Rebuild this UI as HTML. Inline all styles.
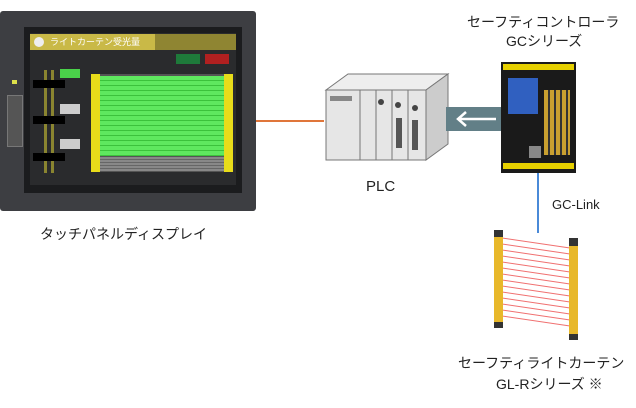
<!DOCTYPE html>
<html><head><meta charset="utf-8"><style>
body{margin:0;width:636px;height:408px;background:#fff;position:relative;overflow:hidden;font-family:"Liberation Sans","Noto Sans CJK JP",sans-serif;color:#222}
.a{position:absolute}
.t{position:absolute;font-size:14px;white-space:nowrap}
</style></head><body>
<!-- touch panel -->
<div class="a" style="left:0;top:11px;width:256px;height:200px;background:#3d3e42;border-radius:3px"></div>
<div class="a" style="left:24px;top:27px;width:218px;height:166px;background:#1b1c1e"></div>
<div class="a" style="left:30px;top:33px;width:206px;height:152px;background:#2a2b2d"></div>
<div class="a" style="left:30px;top:34px;width:206px;height:16px;background:#8f8532"></div>
<div class="a" style="left:30px;top:34px;width:125px;height:16px;background:#c9b947"></div>
<div class="a" style="left:34px;top:37px;width:10px;height:10px;border-radius:50%;background:#eee"></div>
<div class="t" style="left:50px;top:35px;font-size:9px;color:#fff">ライトカーテン受光量</div>
<div class="a" style="left:176px;top:54px;width:24px;height:10px;background:#1e7a3a"></div>
<div class="a" style="left:205px;top:54px;width:24px;height:10px;background:#b02020"></div>
<div class="a" style="left:12px;top:80px;width:5px;height:4px;background:#dde04a"></div>
<div class="a" style="left:7px;top:95px;width:14px;height:50px;background:#555;border:1px solid #777"></div>
<div class="a" style="left:44px;top:70px;width:3px;height:103px;background:#8a8530"></div>
<div class="a" style="left:51px;top:70px;width:3px;height:103px;background:#8a8530"></div>
<div class="a" style="left:33px;top:80px;width:32px;height:8px;background:#000"></div>
<div class="a" style="left:33px;top:116px;width:32px;height:8px;background:#000"></div>
<div class="a" style="left:33px;top:153px;width:32px;height:8px;background:#000"></div>
<div class="a" style="left:60px;top:69px;width:20px;height:9px;background:#4ad24a"></div>
<div class="a" style="left:60px;top:104px;width:20px;height:10px;background:#ccc"></div>
<div class="a" style="left:60px;top:139px;width:20px;height:10px;background:#ccc"></div>
<div class="a" style="left:92px;top:74px;width:132px;height:98px;background:#555"></div>
<div class="a" style="left:100px;top:76px;width:124px;height:80px;background:repeating-linear-gradient(#5fe85f 0 4px,#3cc23c 4px 5px)"></div>
<div class="a" style="left:100px;top:157px;width:124px;height:14px;background:repeating-linear-gradient(#888 0 2px,#666 2px 3px)"></div>
<div class="a" style="left:91px;top:74px;width:9px;height:98px;background:#e8dc1a"></div>
<div class="a" style="left:224px;top:74px;width:9px;height:98px;background:#e8dc1a"></div>
<div class="t" style="left:40px;top:224px;font-size:14px">タッチパネルディスプレイ</div>
<!-- orange line -->
<div class="a" style="left:256px;top:120px;width:68px;height:2px;background:#e0763a"></div>
<!-- PLC -->
<svg class="a" style="left:320px;top:70px" width="130" height="95">
<polygon points="6,20 28,4 128,4 106,20" fill="#eee" stroke="#777"/>
<polygon points="106,20 128,4 128,74 106,90" fill="#ccc" stroke="#777"/>
<rect x="6" y="20" width="100" height="70" fill="#e6e6e6" stroke="#777"/>
<line x1="40" y1="20" x2="40" y2="90" stroke="#777"/><line x1="56" y1="20" x2="56" y2="90" stroke="#777"/>
<line x1="72" y1="20" x2="72" y2="90" stroke="#777"/><line x1="88" y1="20" x2="88" y2="90" stroke="#777"/>
<rect x="10" y="26" width="22" height="5" fill="#888"/>
<circle cx="61" cy="32" r="3" fill="#444"/><circle cx="78" cy="35" r="3" fill="#444"/><circle cx="95" cy="38" r="3" fill="#444"/>
<rect x="76" y="48" width="6" height="30" fill="#555"/><rect x="92" y="50" width="6" height="30" fill="#555"/>
</svg>
<div class="t" style="left:366px;top:178px;font-size:15px">PLC</div>
<!-- arrow band -->
<div class="a" style="left:446px;top:107px;width:56px;height:24px;background:#627f87"></div>
<svg class="a" style="left:450px;top:110px" width="50" height="18"><path d="M46 9H8M16 2L8 9L16 16" stroke="#fff" stroke-width="2.5" fill="none"/></svg>
<!-- controller -->
<div class="a" style="left:501px;top:62px;width:75px;height:111px;background:#1a1a1a"></div>
<div class="a" style="left:503px;top:64px;width:71px;height:6px;background:#e6d000"></div>
<div class="a" style="left:503px;top:163px;width:71px;height:6px;background:#e6d000"></div>
<div class="a" style="left:508px;top:78px;width:30px;height:36px;background:#3060c0"></div>
<div class="a" style="left:544px;top:90px;width:26px;height:65px;background:repeating-linear-gradient(90deg,#c9a030 0 4px,#333 4px 6px)"></div>
<div class="a" style="left:529px;top:146px;width:12px;height:12px;background:#888"></div>
<div class="t" style="left:467px;top:12px;font-size:14px">セーフティコントローラ</div>
<div class="t" style="left:506px;top:31px;font-size:14px">GCシリーズ</div>
<!-- blue line -->
<div class="a" style="left:537px;top:173px;width:2px;height:60px;background:#4a8ad8"></div>
<div class="t" style="left:552px;top:197px;font-size:13px">GC-Link</div>
<!-- curtain -->
<svg class="a" style="left:490px;top:228px" width="100" height="120">
<g stroke="#f07070" stroke-width="1">
<line x1="12" y1="10" x2="80" y2="20"/><line x1="12" y1="16" x2="80" y2="26"/><line x1="12" y1="22" x2="80" y2="32"/><line x1="12" y1="28" x2="80" y2="38"/><line x1="12" y1="34" x2="80" y2="44"/><line x1="12" y1="40" x2="80" y2="50"/><line x1="12" y1="46" x2="80" y2="56"/><line x1="12" y1="52" x2="80" y2="62"/><line x1="12" y1="58" x2="80" y2="68"/><line x1="12" y1="64" x2="80" y2="74"/><line x1="12" y1="70" x2="80" y2="80"/><line x1="12" y1="76" x2="80" y2="86"/><line x1="12" y1="82" x2="80" y2="92"/><line x1="12" y1="88" x2="80" y2="98"/>
</g>
<rect x="4" y="4" width="9" height="96" fill="#e8b82a"/><rect x="4" y="2" width="9" height="7" fill="#333"/><rect x="4" y="94" width="9" height="6" fill="#333"/>
<rect x="79" y="12" width="9" height="100" fill="#e8b82a"/><rect x="79" y="10" width="9" height="8" fill="#333"/><rect x="79" y="106" width="9" height="6" fill="#333"/>
</svg>
<div class="t" style="left:458px;top:353px;font-size:14px">セーフティライトカーテン</div>
<div class="t" style="left:496px;top:374px;font-size:14px">GL-Rシリーズ ※</div>
</body></html>
